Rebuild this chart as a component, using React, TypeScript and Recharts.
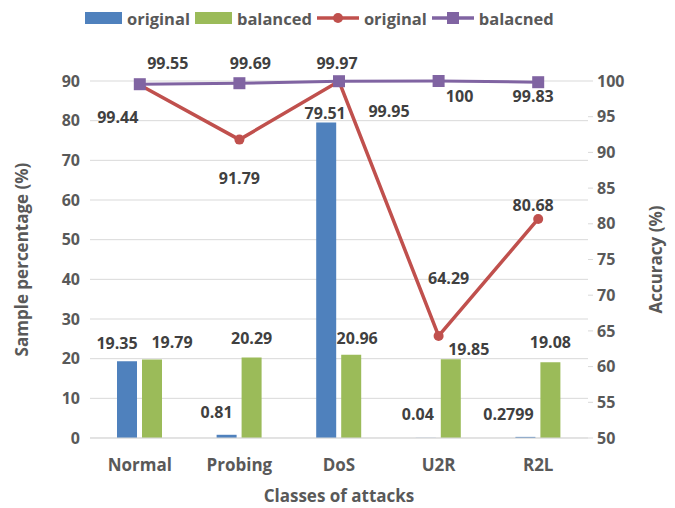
import { ComposedChart, Bar, Line, XAxis, YAxis, CartesianGrid, LabelList } from 'recharts';

const categories = ['Normal', 'Probing', 'DoS', 'U2R', 'R2L'];
const sampleOriginal = [19.35, 0.81, 79.51, 0.04, 0.2799];
const sampleBalanced = [19.79, 20.29, 20.96, 19.85, 19.08];
const accOriginal = [99.44, 91.79, 99.95, 64.29, 80.68];
const accBalanced = [99.55, 99.69, 99.97, 100, 99.83];
const leftTicks = [0, 10, 20, 30, 40, 50, 60, 70, 80, 90];
const rightTicks = [50, 55, 60, 65, 70, 75, 80, 85, 90, 95, 100];

// label nudges (dx, dy) relative to the mark, like the hand-placed labels in the original
const blueNudge = [[-10, -18], [-10, -23], [-1, -10], [-8, -24], [-17, -23]];
const greenNudge = [[20, -17], [0, -20], [6, -17], [18, -10], [0, -20]];
const redNudge = [[-22, 32], [0, 38], [50, 30], [10, -58], [-5, -14]];
const purpleNudge = [[28, -21], [11, -20], [-2, -18], [21, 15], [-5, 14]];

const data = categories.map((name, i) => ({
    name,
    sampleOriginal: sampleOriginal[i],
    sampleBalanced: sampleBalanced[i],
    accOriginal: accOriginal[i],
    accBalanced: accBalanced[i],
}));

const FONT = '"Open Sans", sans-serif';
const LABEL_COLOR = '#404040';
const AXIS_COLOR = '#595959';
const BLUE = '#4F81BD';
const GREEN = '#9BBB59';
const RED = '#C0504D';
const PURPLE = '#8064A2';

const nudgedLabel = (nudge: number[][]) => (props: any) => {
    const { x, y, width, value, index } = props;
    const cx = width != null ? x + width / 2 : x;
    const [dx, dy] = nudge[index] ?? [0, 0];
    return (
        <text
            x={cx + dx}
            y={y + dy}
            textAnchor="middle"
            dominantBaseline="central"
            fontFamily={FONT}
            fontWeight="bold"
            fontSize={16}
            fill={LABEL_COLOR}
        >
            {value}
        </text>
    );
};

const SquareDot = (props: any) => {
    const { cx, cy } = props;
    if (cx == null || cy == null) return null;
    return <rect x={cx - 6} y={cy - 6} width={12} height={12} fill={PURPLE} />;
};

const tickStyle = { fontFamily: FONT, fontSize: 16, fontWeight: 'bold', fill: AXIS_COLOR };

const LegendItem = ({ kind, color, label }: { kind: 'rect' | 'circle' | 'square'; color: string; label: string }) => (
    <div style={{ display: 'flex', alignItems: 'center', gap: 5, marginRight: 5 }}>
        <svg width={kind === 'rect' ? 37 : 42} height={16}>
            {kind === 'rect' ? (
                <rect x={0} y={2} width={37} height={12} fill={color} />
            ) : (
                <>
                    <line x1={0} y1={8} x2={42} y2={8} stroke={color} strokeWidth={3.5} />
                    {kind === 'circle'
                        ? <circle cx={21} cy={8} r={5} fill={color} />
                        : <rect x={15} y={2} width={12} height={12} fill={color} />}
                </>
            )}
        </svg>
        <span style={{ fontFamily: FONT, fontWeight: 'bold', fontSize: 16.5, color: AXIS_COLOR }}>{label}</span>
    </div>
);

export default function App() {
    return (
        <div style={{ position: 'absolute', left: 0, top: 0, width: 675, height: 508, background: '#fff' }}>
            {/* Legend */}
            <div style={{ position: 'absolute', left: 85, top: 6, display: 'flex', alignItems: 'center', height: 24 }}>
                <LegendItem kind="rect" color={BLUE} label="original" />
                <LegendItem kind="rect" color={GREEN} label="balanced" />
                <LegendItem kind="circle" color={RED} label="original" />
                <LegendItem kind="square" color={PURPLE} label="balacned" />
            </div>

            <ComposedChart
                width={675}
                height={508}
                data={data}
                margin={{ top: 81, right: 0, left: 0, bottom: 0 }}
                barSize={20}
                barGap={5}
            >
                <CartesianGrid yAxisId="left" horizontal vertical={false} stroke="#d9d9d9" />
                <XAxis
                    dataKey="name"
                    height={70}
                    tick={{ ...tickStyle, fontSize: 17 }}
                    tickLine={false}
                    axisLine={{ stroke: '#d9d9d9' }}
                    tickMargin={15}
                    label={{
                        value: 'Classes of attacks',
                        position: 'insideBottom',
                        offset: 6,
                        style: { fontFamily: FONT, fontSize: 17, fontWeight: 'bold', fill: AXIS_COLOR },
                    }}
                />
                <YAxis
                    yAxisId="left"
                    width={90}
                    domain={[0, 90]}
                    ticks={leftTicks}
                    tick={tickStyle}
                    tickLine={false}
                    axisLine={false}
                    tickMargin={4}
                    label={{
                        value: 'Sample percentage (%)',
                        angle: -90,
                        position: 'insideLeft',
                        offset: 22,
                        style: { textAnchor: 'middle', fontFamily: FONT, fontSize: 17, fontWeight: 'bold', fill: AXIS_COLOR },
                    }}
                />
                <YAxis
                    yAxisId="right"
                    orientation="right"
                    width={87}
                    domain={[50, 100]}
                    ticks={rightTicks}
                    tick={tickStyle}
                    tickLine={{ stroke: '#d9d9d9' }}
                    tickSize={5}
                    axisLine={false}
                    tickMargin={4}
                    label={{
                        value: 'Accuracy (%)',
                        angle: -90,
                        position: 'insideRight',
                        offset: 19,
                        style: { textAnchor: 'middle', fontFamily: FONT, fontSize: 17, fontWeight: 'bold', fill: AXIS_COLOR },
                    }}
                />
                <Bar yAxisId="left" dataKey="sampleOriginal" fill={BLUE} isAnimationActive={false}>
                    <LabelList dataKey="sampleOriginal" content={nudgedLabel(blueNudge)} />
                </Bar>
                <Bar yAxisId="left" dataKey="sampleBalanced" fill={GREEN} isAnimationActive={false}>
                    <LabelList dataKey="sampleBalanced" content={nudgedLabel(greenNudge)} />
                </Bar>
                <Line
                    yAxisId="right"
                    dataKey="accOriginal"
                    stroke={RED}
                    strokeWidth={3.5}
                    dot={{ r: 5, fill: RED, stroke: RED, strokeWidth: 0 }}
                    activeDot={false}
                    isAnimationActive={false}
                >
                    <LabelList dataKey="accOriginal" content={nudgedLabel(redNudge)} />
                </Line>
                <Line
                    yAxisId="right"
                    dataKey="accBalanced"
                    stroke={PURPLE}
                    strokeWidth={3}
                    dot={<SquareDot />}
                    activeDot={false}
                    isAnimationActive={false}
                >
                    <LabelList dataKey="accBalanced" content={nudgedLabel(purpleNudge)} />
                </Line>
            </ComposedChart>
        </div>
    );
}
